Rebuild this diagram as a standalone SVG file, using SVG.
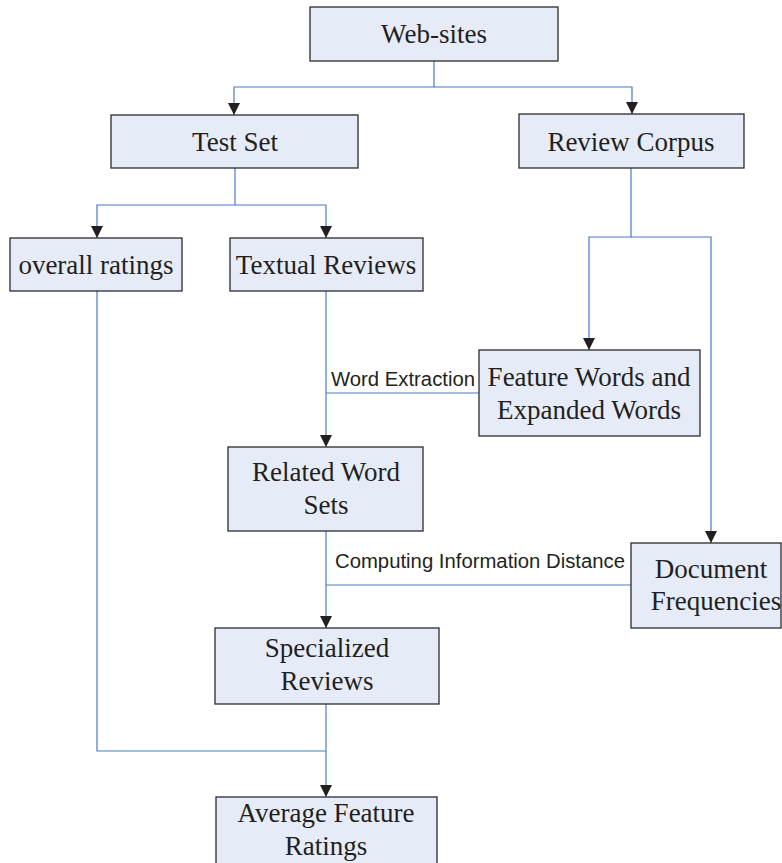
<svg xmlns="http://www.w3.org/2000/svg" width="782" height="863" viewBox="0 0 782 863">
<style>
.box{fill:#e6ecf7;stroke:#2b2b2b;stroke-width:1.3}
.t{font-family:"Liberation Serif","Times New Roman",serif;font-size:27px;fill:#231f20;text-anchor:middle}
.lbl{font-family:"Liberation Sans",Arial,sans-serif;font-size:20px;fill:#231f20}
.c{fill:none;stroke:#4a7ac6;stroke-width:1.2}
</style>
<defs>
<marker id="ah" markerWidth="14" markerHeight="14" viewBox="0 0 14 14" refX="12" refY="7" orient="auto" markerUnits="userSpaceOnUse">
<path d="M0,1 L12,7 L0,13 Z" fill="#231f20"/>
</marker>
</defs>
<rect width="782" height="863" fill="#fff"/>
<g id="connectors">
<path class="c" d="M434,61 V87 H234 V115" marker-end="url(#ah)"/>
<path class="c" d="M434,87 H632 V114" marker-end="url(#ah)"/>
<path class="c" d="M235,168 V205 H97 V238" marker-end="url(#ah)"/>
<path class="c" d="M235,205 H326 V238" marker-end="url(#ah)"/>
<path class="c" d="M631,168 V237 H589 V350" marker-end="url(#ah)"/>
<path class="c" d="M631,237 H711 V543" marker-end="url(#ah)"/>
<path class="c" d="M326,291 V447" marker-end="url(#ah)"/>
<path class="c" d="M479,393 H326"/>
<path class="c" d="M326,531 V628" marker-end="url(#ah)"/>
<path class="c" d="M631,585 H326"/>
<path class="c" d="M326,704 V797" marker-end="url(#ah)"/>
<path class="c" d="M97,291 V751 H326"/>
<text class="lbl" x="331" y="386" textLength="144" lengthAdjust="spacingAndGlyphs">Word Extraction</text>
<text class="lbl" x="335" y="568" textLength="290" lengthAdjust="spacingAndGlyphs">Computing Information Distance</text>
</g>
<g id="websites"><rect class="box" x="310" y="7" width="248" height="54"/><text class="t" x="434" y="43">Web-sites</text></g>
<g id="testset"><rect class="box" x="111" y="115" width="247" height="53"/><text class="t" x="235" y="151">Test Set</text></g>
<g id="reviewcorpus"><rect class="box" x="519" y="114" width="225" height="54"/><text class="t" x="631" y="151">Review Corpus</text></g>
<g id="overallratings"><rect class="box" x="10" y="238" width="172" height="53"/><text class="t" x="96" y="274">overall ratings</text></g>
<g id="textualreviews"><rect class="box" x="230" y="238" width="193" height="53"/><text class="t" x="326" y="274">Textual Reviews</text></g>
<g id="featurewords"><rect class="box" x="479" y="350" width="221" height="86"/><text class="t" x="589" y="386">Feature Words and</text><text class="t" x="589" y="419">Expanded Words</text></g>
<g id="relatedwordsets"><rect class="box" x="228" y="447" width="195" height="84"/><text class="t" x="326" y="481">Related Word</text><text class="t" x="326" y="514">Sets</text></g>
<g id="docfreq"><rect class="box" x="631" y="543" width="150" height="85"/><text class="t" x="711" y="578">Document</text><text class="t" x="716" y="610">Frequencies</text></g>
<g id="specialized"><rect class="box" x="215" y="628" width="224" height="76"/><text class="t" x="327" y="657">Specialized</text><text class="t" x="327" y="690">Reviews</text></g>
<g id="average"><rect class="box" x="216" y="797" width="221" height="80"/><text class="t" x="326" y="822">Average Feature</text><text class="t" x="326" y="855">Ratings</text></g>
</svg>
